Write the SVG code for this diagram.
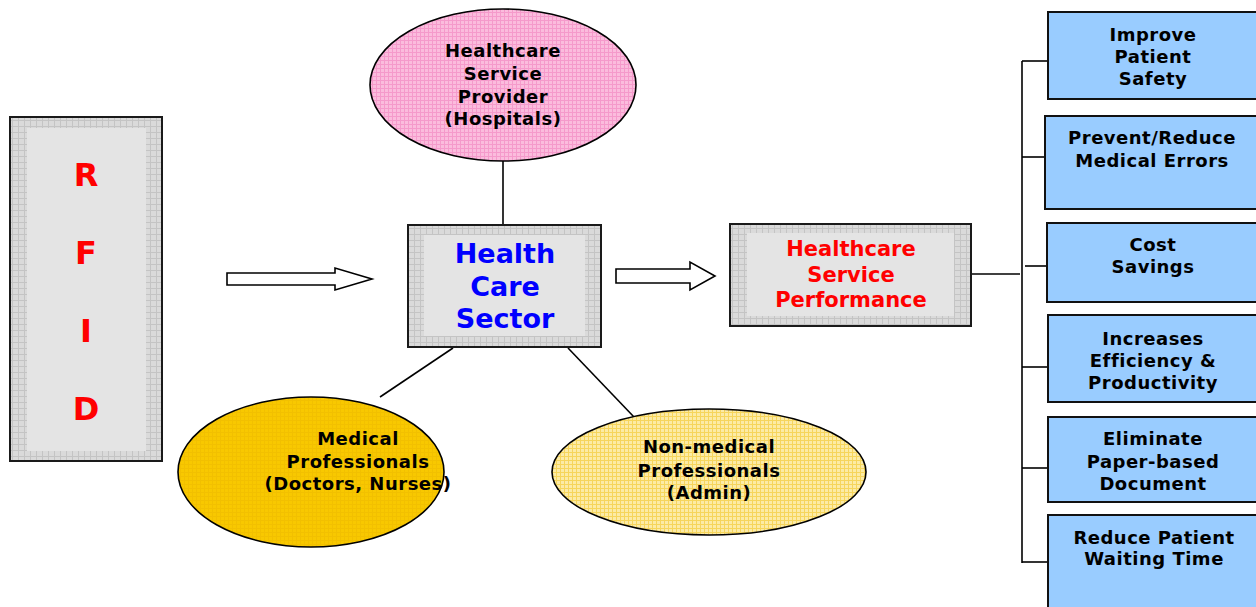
<svg xmlns="http://www.w3.org/2000/svg" width="1256" height="607" viewBox="0 0 1256 607">
<defs>
<pattern id="gridGray" width="6" height="6" patternUnits="userSpaceOnUse">
<rect width="6" height="6" fill="#DADADA"/>
<path d="M0 0.5H6M0.5 0V6" stroke="#C4C4C4" stroke-width="1"/>
</pattern>
<pattern id="gridPink" width="4" height="4" patternUnits="userSpaceOnUse">
<rect width="4" height="4" fill="#FBBCDD"/>
<path d="M0 0.5H4M0.5 0V4" stroke="#F59ACB" stroke-width="1"/>
</pattern>
<pattern id="gridYellow" width="4" height="4" patternUnits="userSpaceOnUse">
<rect width="4" height="4" fill="#FCEBA6"/>
<path d="M0 0.5H4M0.5 0V4" stroke="#F6D55C" stroke-width="1"/>
</pattern>
<pattern id="gridGold" width="4" height="4" patternUnits="userSpaceOnUse">
<rect width="4" height="4" fill="#F8C800"/>
<path d="M0 0.5H4M0.5 0V4" stroke="#F2C000" stroke-width="1"/>
</pattern>
</defs>
<style>
text{font-family:"DejaVu Sans","Verdana",sans-serif;font-weight:bold;text-anchor:middle}
.gbox{fill:url(#gridGray);stroke:#1a1a1a;stroke-width:2}
.inner{fill:#E4E4E4}
.blue{fill:#99CCFF;stroke:#111;stroke-width:2}
.lbl{font-size:18px;letter-spacing:0.5px;fill:#000}
.ln{stroke:#000;stroke-width:1.6;fill:none}
.arr{fill:#fff;stroke:#000;stroke-width:1.6}
</style>

<g id="rfid">
<rect class="gbox" x="10" y="117" width="152" height="344"/>
<rect class="inner" x="27" y="128" width="119" height="323"/>
<text x="86" y="186" font-size="32" fill="#FF0000">R</text>
<text x="86" y="264" font-size="32" fill="#FF0000">F</text>
<text x="86" y="342" font-size="32" fill="#FF0000">I</text>
<text x="86" y="420" font-size="32" fill="#FF0000">D</text>
</g>

<g id="connectors">
<polygon class="arr" points="227,273 335,273 335,268 372,279 335,290 335,285 227,285"/>
<polygon class="arr" points="616,269 690,269 690,262 715,276 690,290 690,283 616,283"/>
<line class="ln" x1="503" y1="161" x2="503" y2="225"/>
<line class="ln" x1="453" y1="348" x2="380" y2="397"/>
<line class="ln" x1="568" y1="348" x2="634" y2="417"/>
<line class="ln" x1="971" y1="274" x2="1020" y2="274"/>
<line class="ln" x1="1022" y1="61" x2="1022" y2="563"/>
<line class="ln" x1="1022" y1="61" x2="1048" y2="61"/>
<line class="ln" x1="1022" y1="157" x2="1045" y2="157"/>
<line class="ln" x1="1025" y1="266" x2="1047" y2="266"/>
<line class="ln" x1="1022" y1="367" x2="1048" y2="367"/>
<line class="ln" x1="1022" y1="468" x2="1048" y2="468"/>
<line class="ln" x1="1022" y1="562" x2="1048" y2="562"/>
</g>

<g id="provider">
<ellipse cx="503" cy="85" rx="133" ry="76" fill="url(#gridPink)" stroke="#000" stroke-width="1.6"/>
<text class="lbl" x="503" y="57">Healthcare</text>
<text class="lbl" x="503" y="80">Service</text>
<text class="lbl" x="503" y="103">Provider</text>
<text class="lbl" x="503" y="125">(Hospitals)</text>
</g>

<g id="sector">
<rect class="gbox" x="408" y="225" width="193" height="122"/>
<rect class="inner" x="424" y="235" width="161" height="101"/>
<text x="505" y="263" font-size="27" fill="#0000FF">Health</text>
<text x="505" y="296" font-size="27" fill="#0000FF">Care</text>
<text x="505" y="328" font-size="27" fill="#0000FF">Sector</text>
</g>

<g id="medical">
<ellipse cx="311" cy="472" rx="133" ry="75" fill="url(#gridGold)" stroke="#000" stroke-width="1.6"/>
<text class="lbl" x="358" y="445">Medical</text>
<text class="lbl" x="358" y="468">Professionals</text>
<text class="lbl" x="358" y="490">(Doctors, Nurses)</text>
</g>

<g id="nonmedical">
<ellipse cx="709" cy="472" rx="157" ry="63" fill="url(#gridYellow)" stroke="#000" stroke-width="1.6"/>
<text class="lbl" x="709" y="453">Non-medical</text>
<text class="lbl" x="709" y="477">Professionals</text>
<text class="lbl" x="709" y="499">(Admin)</text>
</g>

<g id="performance">
<rect class="gbox" x="730" y="224" width="241" height="102"/>
<rect class="inner" x="747" y="233" width="207" height="83"/>
<text x="851" y="256" font-size="21" fill="#FF0000">Healthcare</text>
<text x="851" y="282" font-size="21" fill="#FF0000">Service</text>
<text x="851" y="307" font-size="21" fill="#FF0000">Performance</text>
</g>

<g id="safety">
<rect class="blue" x="1048" y="12" width="212" height="87"/>
<text class="lbl" x="1153" y="41">Improve</text>
<text class="lbl" x="1153" y="63">Patient</text>
<text class="lbl" x="1153" y="85">Safety</text>
</g>
<g id="errors">
<rect class="blue" x="1045" y="116" width="215" height="93"/>
<text class="lbl" x="1152" y="144">Prevent/Reduce</text>
<text class="lbl" x="1152" y="167">Medical Errors</text>
</g>
<g id="cost">
<rect class="blue" x="1047" y="223" width="213" height="79"/>
<text class="lbl" x="1153" y="251">Cost</text>
<text class="lbl" x="1153" y="273">Savings</text>
</g>
<g id="efficiency">
<rect class="blue" x="1048" y="315" width="212" height="87"/>
<text class="lbl" x="1153" y="345">Increases</text>
<text class="lbl" x="1153" y="367">Efficiency &amp;</text>
<text class="lbl" x="1153" y="389">Productivity</text>
</g>
<g id="paper">
<rect class="blue" x="1048" y="417" width="212" height="85"/>
<text class="lbl" x="1153" y="445">Eliminate</text>
<text class="lbl" x="1153" y="468">Paper-based</text>
<text class="lbl" x="1153" y="490">Document</text>
</g>
<g id="waiting">
<rect class="blue" x="1048" y="515" width="212" height="100"/>
<text class="lbl" x="1154" y="544">Reduce Patient</text>
<text class="lbl" x="1154" y="565">Waiting Time</text>
</g>
</svg>
